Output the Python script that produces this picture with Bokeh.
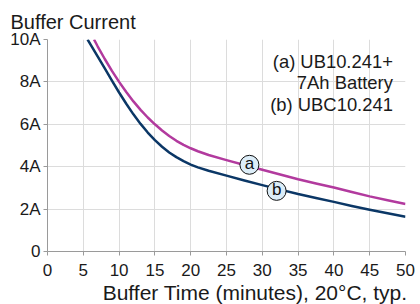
from bokeh.plotting import figure
from bokeh.models import Range1d, FixedTicker, Title, ColumnDataSource
from bokeh.core.properties import value
from bokeh.embed import file_html
from bokeh.resources import INLINE

# ---- data ----
a_time = [6.5, 7, 8, 9, 10, 11, 12, 13, 14, 15, 16, 17, 18, 19, 20, 21,
          22.5, 25, 27.5, 30, 32.5, 35, 37.5, 40, 42.5, 45, 47.5, 50]
a_current = [10, 9.68, 9.08, 8.52, 8.0, 7.52, 7.08, 6.68, 6.32, 6.0, 5.71, 5.45, 5.22, 5.03, 4.87, 4.73,
             4.55, 4.31, 4.08, 3.86, 3.63, 3.41, 3.21, 3.02, 2.81, 2.6, 2.42, 2.24]
b_time = [5.6, 6, 7, 8, 9, 10, 11, 12, 13, 14, 15, 16, 17, 18, 19, 20, 21,
          22.5, 25, 27.5, 30, 32.5, 35, 37.5, 40, 42.5, 45, 47.5, 50]
b_current = [10, 9.77, 9.2, 8.64, 8.06, 7.5, 6.97, 6.47, 6.02, 5.61, 5.25, 4.94, 4.67, 4.45, 4.26, 4.1, 3.97,
             3.81, 3.58, 3.35, 3.13, 2.92, 2.71, 2.52, 2.34, 2.15, 1.97, 1.8, 1.64]
x_ticks = [0, 5, 10, 15, 20, 25, 30, 35, 40, 45, 50]
y_ticks = [0, 2, 4, 6, 8, 10]
y_tick_labels = ["0", "2A", "4A", "6A", "8A", "10A"]
series_tags = ["a", "b"]
legend_lines = ["(a) UB10.241+", "7Ah Battery", "(b) UBC10.241"]
y_title = "Buffer Current"
x_title = "Buffer Time (minutes), 20\u00b0C, typ."

# annotation placement (data coords)
tag_x = [28.2, 32.0]
tag_y = [4.09, 2.86]
legend_x = [48.24, 48.24, 48.24]
legend_y = [8.95, 7.96, 6.92]

FONT = "Liberation Sans"
C_A = "#b23a9e"
C_B = "#0b3766"

p = figure(width=420, height=304, output_backend="svg", toolbar_location=None,
           x_range=Range1d(0, 50), y_range=Range1d(0, 10),
           min_border_left=47, min_border_right=15, min_border_top=39, min_border_bottom=53)
p.outline_line_color = None
p.background_fill_color = "white"

p.xaxis.ticker = FixedTicker(ticks=x_ticks)
p.yaxis.ticker = FixedTicker(ticks=y_ticks)
p.yaxis.major_label_overrides = {t: l for t, l in zip(y_ticks, y_tick_labels)}

for ax in (p.xaxis, p.yaxis):
    ax.axis_line_color = "#9a9a9a"
    ax.major_tick_line_color = "#9a9a9a"
    ax.major_tick_out = 4
    ax.major_tick_in = 0
    ax.minor_tick_line_color = None
    ax.major_label_text_font = FONT
    ax.major_label_text_font_size = "17px"
    ax.major_label_text_color = "#1a1a1a"
p.yaxis.major_label_standoff = 3
p.xaxis.major_label_standoff = 8

p.xgrid.ticker = FixedTicker(ticks=x_ticks)
p.ygrid.ticker = FixedTicker(ticks=y_ticks)
p.grid.grid_line_color = "#dcdcdc"
p.grid.grid_line_width = 1

p.line(a_time, a_current, line_color=C_A, line_width=2.5, line_join="round")
p.line(b_time, b_current, line_color=C_B, line_width=2.5, line_join="round")

src = ColumnDataSource(dict(x=tag_x, y=tag_y, t=series_tags))
p.scatter("x", "y", source=src, size=19, fill_color="#dcedf8", line_color="#111111", line_width=1)
p.text("x", "y", text="t", source=src, text_align="center", text_baseline="middle",
       text_font=value(FONT), text_font_size="17px", text_color="#111111", y_offset=-1)

lsrc = ColumnDataSource(dict(x=legend_x, y=legend_y, t=legend_lines))
p.text("x", "y", text="t", source=lsrc, text_align="right", text_baseline="middle",
       text_font=value(FONT), text_font_size="18.4px", text_color="#1a1a1a")

p.add_layout(Title(text=y_title, align="left", offset=-37, standoff=14, text_line_height=1.0,
                   text_font=FONT, text_font_size="20px", text_font_style="normal",
                   text_color="#1a1a1a"), "above")
p.add_layout(Title(text=x_title, align="right", offset=-2, standoff=0,
                   text_font=FONT, text_font_size="21px", text_font_style="normal",
                   text_color="#1a1a1a"), "below")

open("out.html", "w").write(file_html(p, INLINE))
